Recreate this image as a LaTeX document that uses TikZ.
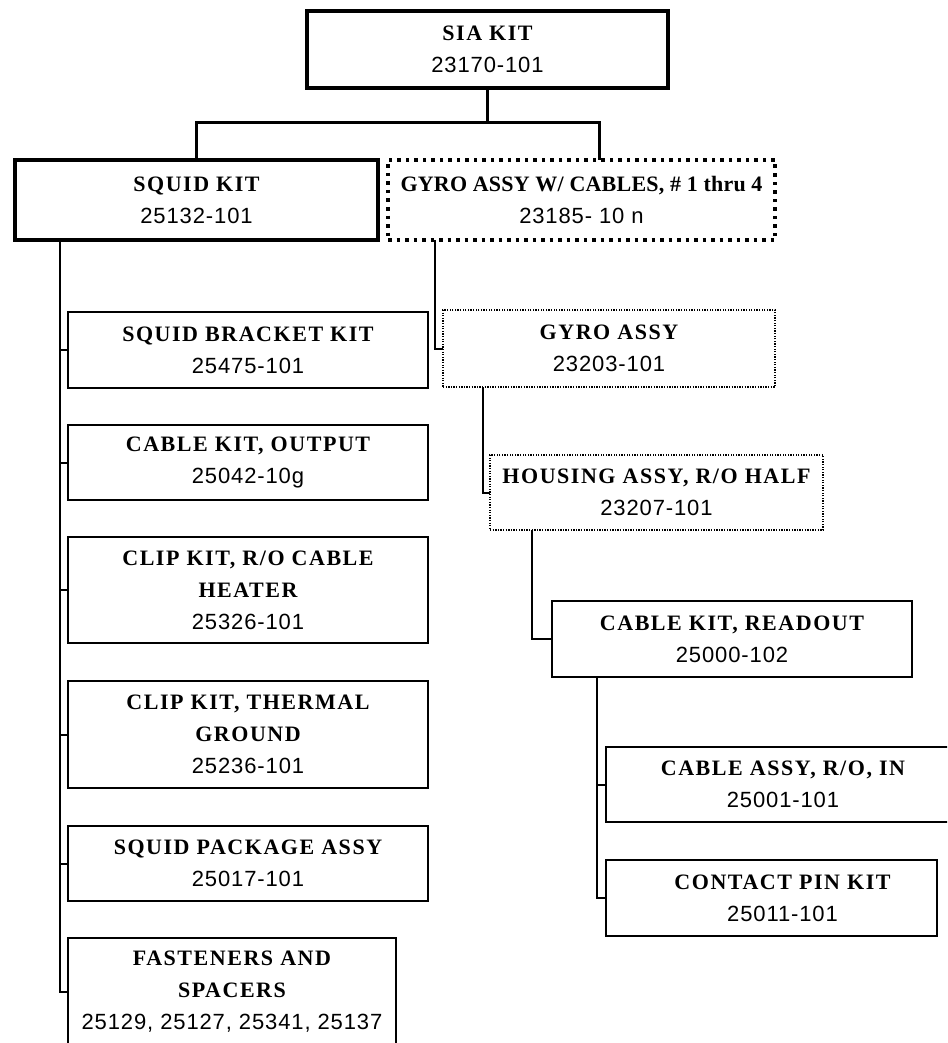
\documentclass[tikz,border=0pt]{standalone}
\usepackage{fontspec}
\newfontfamily\headfont[LetterSpace=7]{Liberation Serif}
\newfontfamily\numfont[LetterSpace=4]{Liberation Sans}
\newcommand\boxhead[1]{{\headfont\bfseries\fontsize{22}{32}\selectfont #1}}
\newcommand\partno[1]{{\numfont\fontsize{22}{32}\selectfont #1}}
\tikzset{
  item/.style={draw, rectangle, line width=2pt, inner sep=0pt, outer sep=0pt,
    align=center, anchor=north west, font=\fontsize{22}{32}\selectfont},
  major/.style={item, line width=3.5pt},
  dotsheavy/.style={item, line width=3.5pt, dash pattern=on 3.5pt off 5pt},
  dotsfine/.style={item, line width=1.6pt, dash pattern=on 1.3pt off 1.3pt},
  size/.style 2 args={minimum width=#1pt, minimum height=#2pt},
  link/.style={line width=2pt},
  trunk/.style={line width=3pt},
}
\begin{document}
\begin{tikzpicture}[x=1pt, y=-1pt]
\fill[white] (0,0) rectangle (947,1043);
\useasboundingbox (0,0) rectangle (947,1043);
\clip (0,0) rectangle (947,1043);

% top level
\node[major, size={361}{77}] (sia) at (307,11) {\boxhead{SIA KIT}\\\partno{23170-101}};

% second level
\node[major, size={363}{80}] (squidk) at (15,160) {\boxhead{SQUID KIT}\\\partno{25132-101}};
\node[dotsheavy, size={387}{80}] (gyrow) at (388,160)
  {{\headfont\addfontfeature{LetterSpace=1}\bfseries\fontsize{22}{32}\selectfont GYRO ASSY W/ CABLES, \# 1 thru 4}\\\partno{23185- 10 n}};

% squid kit contents
\node[item, size={360}{76}]  (bracket)  at (68,312) {\boxhead{SQUID BRACKET KIT}\\\partno{25475-101}};
\node[item, size={360}{75}]  (cableout) at (68,425) {\boxhead{CABLE KIT, OUTPUT}\\\partno{25042-10g}};
\node[item, size={360}{106}] (cliprh)   at (68,537) {\boxhead{CLIP KIT, R/O CABLE}\\\boxhead{HEATER}\\\partno{25326-101}};
\node[item, size={360}{107}] (clipth)   at (68,681) {\boxhead{CLIP KIT, THERMAL}\\\boxhead{GROUND}\\\partno{25236-101}};
\node[item, size={360}{75}]  (package)  at (68,826) {\boxhead{SQUID PACKAGE ASSY}\\\partno{25017-101}};
\node[item, size={328}{108}] (fasten)   at (68,938) {\boxhead{FASTENERS AND}\\\boxhead{SPACERS}\\\partno{25129, 25127, 25341, 25137}};

% gyro chain
\node[dotsfine, size={332}{77}] (gyroa)   at (443,310) {\boxhead{GYRO ASSY}\\\partno{23203-101}};
\node[dotsfine, size={333}{75}] (housing) at (490,455) {\boxhead{HOUSING ASSY, R/O HALF}\\\partno{23207-101}};
\node[item, size={360}{76}] (readout)   at (552,601) {\boxhead{CABLE KIT, READOUT}\\\partno{25000-102}};
\node[item, size={354}{75}] (cableassy) at (606,747) {\boxhead{CABLE ASSY, R/O, IN}\\\partno{25001-101}};
\node[item, size={331}{76}] (contact)   at (606,860)
  {\hspace*{22pt}\boxhead{CONTACT PIN KIT}\\\hspace*{22pt}\partno{25011-101}};

% connectors from the kit to its two halves
\draw[trunk] (sia.south) -- ++(0,35) -| (squidk.north);
\draw[trunk] (sia.south) -- ++(0,35) -| ([xshift=18pt]gyrow.north);

% squid kit trunk and branches
\coordinate (lt) at ([xshift=45pt]squidk.south west);
\draw[link] (lt) |- (fasten.west);
\foreach \c in {bracket, cableout, cliprh, clipth, package}
  \draw[link] (lt |- \c.west) -- (\c.west);

% gyro chain connectors
\draw[link] ([xshift=47pt]gyrow.south west) |- (gyroa.west);
\draw[link] ([xshift=40pt]gyroa.south west) |- (housing.west);
\draw[link] ([xshift=42pt]housing.south west) |- (readout.west);
\coordinate (rt) at ([xshift=45pt]readout.south west);
\draw[link] (rt) |- (contact.west);
\draw[link] (rt |- cableassy.west) -- (cableassy.west);
\end{tikzpicture}
\end{document}
